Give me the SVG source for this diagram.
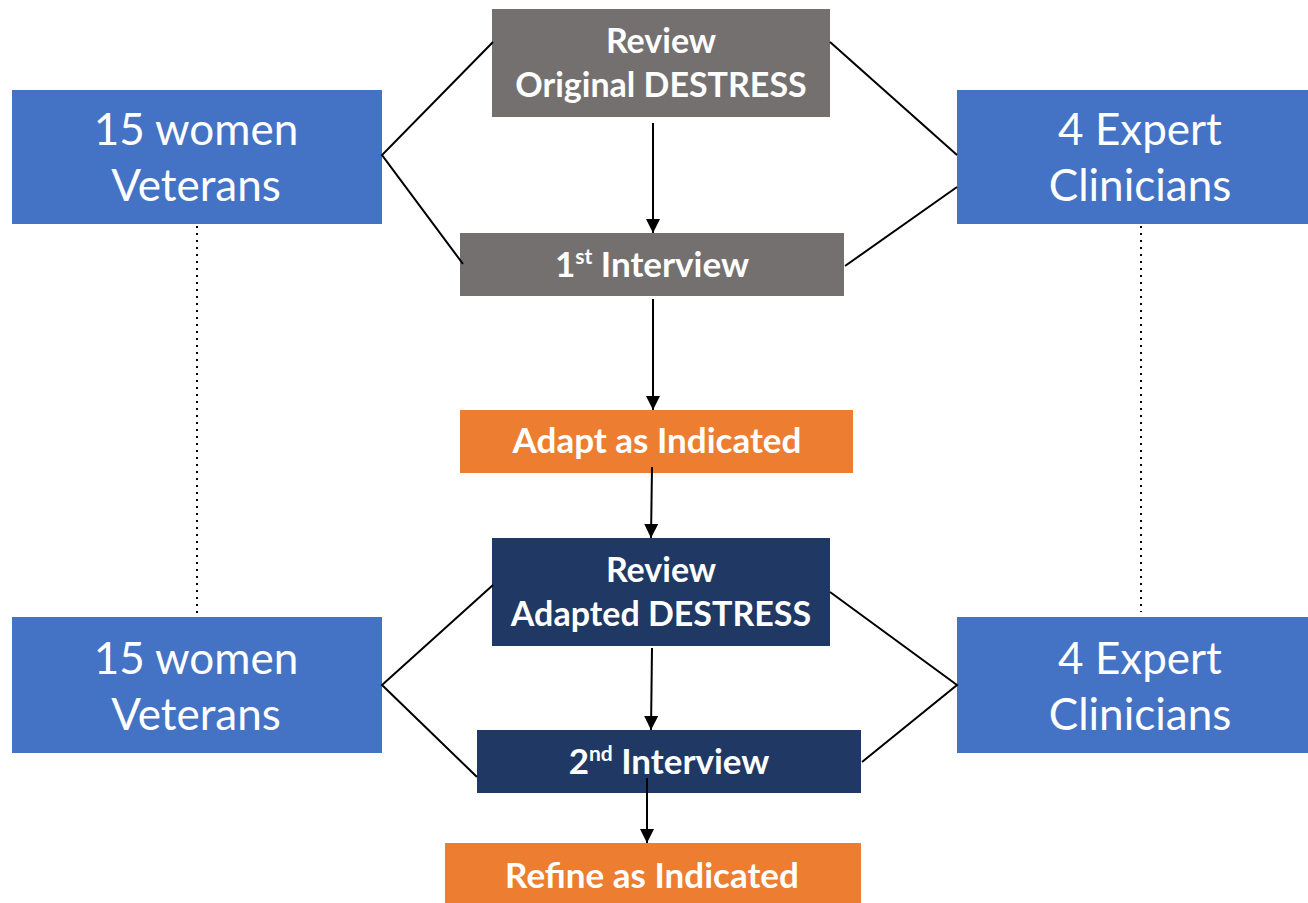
<svg xmlns="http://www.w3.org/2000/svg" width="1308" height="903" viewBox="0 0 1308 903">
<defs>
<marker id="arr" markerWidth="14" markerHeight="14" viewBox="0 0 14 14" refX="14" refY="7" orient="auto" markerUnits="userSpaceOnUse">
<path d="M0,0 L14,7 L0,14 Z" fill="#000"/>
</marker>
<style>
.gray{fill:#757070}.navy{fill:#203864}.orange{fill:#ED7D31}.blue{fill:#4472C4}
.bt{font-family:Lato,"Open Sans",sans-serif;font-weight:bold;font-size:34px;fill:#fff;text-anchor:middle}
.bs{font-size:35px}
.big{font-family:Lato,"Open Sans",sans-serif;font-size:44px;fill:#fff;text-anchor:middle}
.ln{stroke:#000;stroke-width:2;fill:none}
.ar{stroke:#000;stroke-width:2;fill:none;marker-end:url(#arr)}
.dot{stroke:#000;stroke-width:2;stroke-dasharray:2,5;fill:none}
</style>
</defs>
<rect width="1308" height="903" fill="#fff"/>
<g id="review-original">
<rect class="gray" x="492" y="9" width="338" height="108"/>
<text class="bt" x="661" y="53">Review</text>
<text class="bt" x="661" y="97">Original DESTRESS</text>
</g>
<g id="interview1">
<rect class="gray" x="460" y="233" width="384" height="63"/>
<text class="bt bs" x="652" y="277">1<tspan font-size="21" dy="-13">st</tspan><tspan dy="13"> Interview</tspan></text>
</g>
<g id="adapt">
<rect class="orange" x="460" y="410" width="393" height="63"/>
<text class="bt bs" x="657" y="453">Adapt as Indicated</text>
</g>
<g id="review-adapted">
<rect class="navy" x="492" y="538" width="338" height="108"/>
<text class="bt" x="661" y="582">Review</text>
<text class="bt" x="661" y="626">Adapted DESTRESS</text>
</g>
<g id="interview2">
<rect class="navy" x="477" y="730" width="384" height="63"/>
<text class="bt bs" x="669" y="774">2<tspan font-size="21" dy="-13">nd</tspan><tspan dy="13"> Interview</tspan></text>
</g>
<g id="refine">
<rect class="orange" x="445" y="843" width="416" height="60"/>
<text class="bt bs" x="652" y="888">Refine as Indicated</text>
</g>
<g id="veterans-top">
<rect class="blue" x="12" y="90" width="370" height="134"/>
<text class="big" x="196" y="145">15 women</text>
<text class="big" x="196" y="201">Veterans</text>
</g>
<g id="clinicians-top">
<rect class="blue" x="957" y="90" width="351" height="134"/>
<text class="big" x="1140" y="145">4 Expert</text>
<text class="big" x="1140" y="201">Clinicians</text>
</g>
<g id="veterans-bottom">
<rect class="blue" x="12" y="617" width="370" height="136"/>
<text class="big" x="196" y="674">15 women</text>
<text class="big" x="196" y="730">Veterans</text>
</g>
<g id="clinicians-bottom">
<rect class="blue" x="957" y="617" width="351" height="136"/>
<text class="big" x="1140" y="674">4 Expert</text>
<text class="big" x="1140" y="730">Clinicians</text>
</g>
<g id="connectors">
<path class="ln" d="M493,42 L382,155 L463,264"/>
<path class="ln" d="M830,42 L957,155"/>
<path class="ln" d="M957,187 L845,266"/>
<path class="ln" d="M493,585 L382,685 L477,777"/>
<path class="ln" d="M830,592 L957,685 L862,762"/>
<path class="ar" d="M653,123 L653,233"/>
<path class="ar" d="M653,299 L653,410"/>
<path class="ar" d="M652,467 L651,538"/>
<path class="ar" d="M652,648 L651,730"/>
<path class="ar" d="M647,778 L647,843"/>
<path class="dot" d="M197,226 L197,615"/>
<path class="dot" d="M1141,226 L1141,612"/>
</g>
</svg>
